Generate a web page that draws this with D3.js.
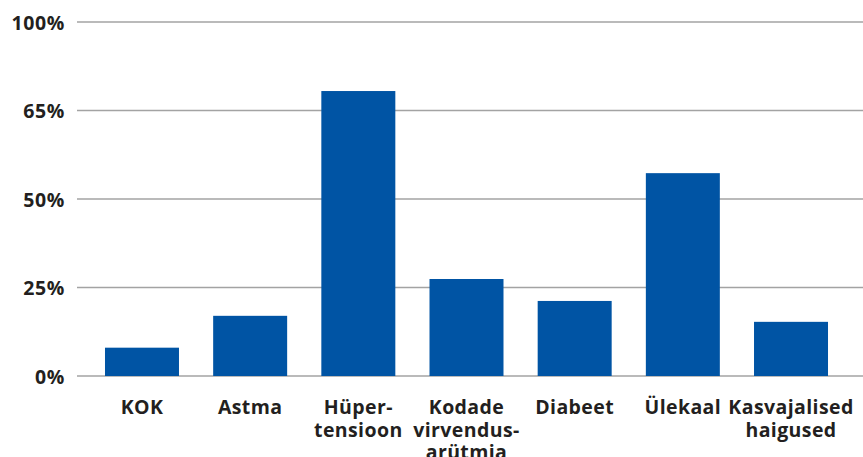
<!DOCTYPE html>
<html>
<head>
<meta charset="utf-8">
<script src="https://cdn.jsdelivr.net/npm/d3@7"></script>
<style>
  html, body { margin: 0; padding: 0; background: #fff; }
  svg { display: block; }
  text { font-family: "Open Sans", "Noto Sans", sans-serif; font-weight: 700; fill: #231f20; }
</style>
</head>
<body>
<svg id="chart" width="863" height="457"></svg>
<script>
// Category labels, each split into its printed lines
const categories = [
  ["KOK"],
  ["Astma"],
  ["Hüper-", "tensioon"],
  ["Kodade", "virvendus-", "arütmia"],
  ["Diabeet"],
  ["Ülekaal"],
  ["Kasvajalised", "haigused"]
];
// Share of respondents (%)
const values = [8, 17, 80.5, 27.4, 21.2, 57.3, 15.3];
// Axis tick positions and their printed labels
const tickValues = [0, 25, 50, 75, 100];
const tickLabels = ["0%", "25%", "50%", "65%", "100%"];

const svg = d3.select("#chart");
const W = 863, H = 457;

const y = d3.scaleLinear().domain([0, 100]).range([376, 22]);
const x = d3.scaleBand()
  .domain(d3.range(categories.length))
  .range([87.9, 845.1])
  .paddingInner(0.316)
  .paddingOuter(0.158);

// Gridlines
const grid = svg.append("g");
grid.selectAll("line")
  .data(tickValues)
  .join("line")
  .attr("x1", 77).attr("x2", W)
  .attr("y1", d => y(d)).attr("y2", d => y(d))
  .attr("stroke", "#a3a3a3")
  .attr("stroke-width", 1.5);

// Y axis labels
const yAxis = d3.axisLeft(y)
  .tickValues(tickValues)
  .tickFormat((d, i) => tickLabels[i])
  .tickSize(0)
  .tickPadding(0);
const ya = svg.append("g").attr("transform", "translate(65,0)").call(yAxis);
ya.select(".domain").remove();
ya.attr("font-family", null).attr("font-size", null);
ya.selectAll("text")
  .attr("font-size", 19.5)
  .attr("letter-spacing", 0.6)
  .attr("dy", "0.36em");

// Bars
svg.append("g").selectAll("rect")
  .data(values)
  .join("rect")
  .attr("x", (d, i) => x(i))
  .attr("width", x.bandwidth())
  .attr("y", d => y(d))
  .attr("height", d => y(0) - y(d))
  .attr("fill", "#0054a4");

// X category labels
const xl = svg.append("g");
xl.selectAll("text")
  .data(categories)
  .join("text")
  .attr("x", (d, i) => x(i) + x.bandwidth() / 2)
  .attr("y", 414)
  .attr("text-anchor", "middle")
  .attr("font-size", 19.5)
  .attr("letter-spacing", 0.4)
  .each(function(lines) {
    const t = d3.select(this);
    lines.forEach((s, k) => {
      t.append("tspan")
        .attr("x", t.attr("x"))
        .attr("dy", k === 0 ? 0 : 22.5)
        .text(s);
    });
  });
</script>
</body>
</html>
